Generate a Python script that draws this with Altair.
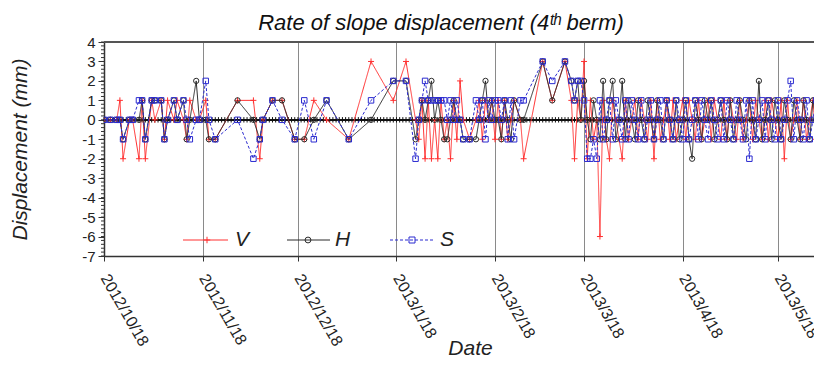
import altair as alt
import pandas as pd

START = pd.Timestamp("2012-10-18")

# observation days (offset in days from 2012/10/18)
day_offsets = [
    0, 2, 4, 5, 6, 8, 9, 11, 12, 13, 15, 16, 18, 19, 20, 22, 23, 25, 26, 27, 29, 30,
    32, 33, 35, 42, 47, 49, 50, 53, 56, 60, 63, 66, 70, 77, 84, 91, 95,
    98, 99, 100, 101, 102, 103, 104, 105, 106, 107, 108, 109, 110, 111, 112, 113, 115, 117, 118, 119, 120, 121, 122, 123,
    124, 125, 126, 127, 128, 129, 131, 132, 138, 141, 145, 147, 148, 149, 150, 151,
    152, 153, 154, 155, 156, 157, 158, 159, 160, 161, 162, 163, 164, 165, 166, 167, 168, 169, 170, 171,
    172, 173, 174, 175, 176, 177, 178, 179, 180, 181, 182, 183, 184, 185, 186, 187, 188, 189, 190, 191,
    192, 193, 194, 195, 196, 197, 198, 199, 200, 201, 202, 203, 204, 205, 206, 207, 208, 209, 210, 211,
    212, 213, 214, 215, 216, 217, 218, 219, 220, 221, 222, 223, 224, 225, 226,
]

v_values = [
    0, 0, 0, 1, -2, 0, 0, -2, 1, -2, 1, 0, 1, -1, 1, 0, 1, 0, -1, 1, 0, 0,
    1, -1, -1, 1, 1, -2, 0, 1, 1, -1, -1, 1, 0, -1, 3, 1, 3,
    0, -1, 1, -2, 1, -2, 0, -2, 1, -1, 0, -2, 1, -1, 2, 0, -1, 0, 1, -1, 1, 0, 1, -1,
    1, -1, 1, -1, 0, 1, 0, -2, 3, 1, 3, 1, -2, 1, 0, 3,
    -2, 1, -1, 0, -6, 1, -1, -2, 1, 0, -1, -2, 1, -1, 0, 1, -1, 1, 0, -1,
    1, -2, 1, -1, 0, 1, -1, 1, -1, 0, 1, -1, 1, 0, -1, 1, -1, 0, 1, -1,
    1, 0, -1, 1, -1, 1, 0, -1, 1, -1, 0, 1, -1, 1, 0, -1, 1, -1, 1, 0,
    -1, 1, -2, 1, -1, 0, 1, -1, 1, -1, 0, 1, -1, 1, -1,
]

h_values = [
    0, 0, 0, 0, -1, 0, 0, 0, 1, -1, 1, 1, 1, -1, 0, 1, 0, 1, -1, 0, 2, 0,
    0, -1, -1, 1, 0, -1, 0, 1, 1, -1, -1, 0, 1, -1, 0, 2, 2,
    -1, 0, 1, 0, 1, 2, 0, 1, 0, -1, -1, 0, 1, 0, 0, -1, -1, -1, 0, 1, 2, 0, 1, 0,
    0, -1, 1, 0, -1, 1, 0, 0, 3, 1, 3, 2, 1, 2, 0, 2,
    0, -1, 1, 0, -1, 2, -1, 1, 2, -1, 0, 2, -1, 1, 0, -1, 1, 0, -1, 1,
    0, -1, 1, 0, -1, 1, 0, -1, 1, -1, 0, 1, -1, -2, 1, 0, -1, 1, 0, 1,
    -1, 0, 1, 0, -1, 1, -1, 0, 1, 0, -1, 1, 0, -1, 2, -1, 0, 1, -1, 1,
    0, -1, 1, 0, -1, 1, 0, -1, 1, 0, -1, 1, 0, -1, 1,
]

s_values = [
    0, 0, 0, 0, -1, 0, 0, 1, 1, -1, 1, 1, 1, -1, 0, 1, 0, 1, 0, -1, 0, 0,
    2, 0, -1, 0, -2, -1, 0, 1, 0, -1, 1, -1, 1, -1, 1, 2, 2,
    -2, 0, 1, 2, 1, 1, 1, 1, 1, 1, 0, 1, 0, 1, 0, -1, -1, 1, 0, 1, -1, 1, 0, 1,
    1, 0, 1, -1, 1, -1, 1, 1, 3, 2, 3, 2, 1, 2, 2, 1,
    -2, -2, -1, -2, 1, -1, 0, 1, -1, 1, 0, -1, 1, -1, 1, 0, -1, 1, -1, 0,
    1, -1, 0, 1, -1, 1, 0, -1, 1, 0, -1, 1, -1, 0, 1, -1, 1, 0, -1, 1,
    0, -1, 1, -1, 1, 0, -1, 1, 0, -1, 1, -2, 1, -1, 0, 1, -1, 1, 0, -1,
    1, -1, 0, 1, 2, -1, 1, 0, -1, 1, -1, 0, 1, -1, 1,
]

series_names = ["V", "H", "S"]
series_colors = ["#ff3030", "#2a2a2a", "#2a2ad0"]
tick_months = [(2012, 10), (2012, 11), (2012, 12), (2013, 1), (2013, 2), (2013, 3), (2013, 4), (2013, 5)]
y_major = [-7, -6, -5, -4, -3, -2, -1, 0, 1, 2, 3, 4]

dates = [START + pd.Timedelta(days=d) for d in day_offsets]
df = pd.DataFrame({"date": dates, "V": v_values, "H": h_values, "S": s_values})

FONT = "Liberation Sans"

x_scale = alt.Scale(domain=[alt.DateTime(year=2012, month=10, date=18),
                            alt.DateTime(year=2013, month=5, date=29, hours=8)])
y_scale = alt.Scale(domain=[-7, 4], nice=False, zero=False)

x_axis = alt.Axis(
    values=[alt.DateTime(year=y, month=m, date=18) for y, m in tick_months],
    format="%Y/%-m/%d", labelAngle=60, labelAlign="left", labelBaseline="middle",
    labelFontSize=16, labelFont=FONT, labelColor="#222", labelPadding=14,
    tickSize=5, tickColor="#333", grid=True, gridColor="#8a8a8a", gridWidth=1,
    domainColor="#333", domainWidth=1.5, labelOverlap=False,
    title="Date", titleFontSize=21, titleFontStyle="italic", titleFontWeight="normal",
    titleFont=FONT, titleColor="#222", titleX=366, titleY=92,
    titleAlign="center", titleBaseline="middle",
)

y_axis = alt.Axis(
    values=y_major, labelExpr="toString(datum.value)", labelOverlap=False, labelFlush=False,
    tickSize=6, tickColor="#333", labelFontSize=15, labelFont=FONT, labelColor="#222",
    labelPadding=3, grid=False, domainColor="#333", domainWidth=1.5,
    title="Displacement (mm)", titleFontSize=21, titleFontStyle="italic", titleFontWeight="normal",
    titleFont=FONT, titleColor="#222", titleX=-84, titleY=107, titleAngle=-90,
    titleAlign="center", titleBaseline="middle",
)

x_enc = alt.X("date:T", scale=x_scale, axis=x_axis)
y_enc = alt.Y("value:Q", scale=y_scale, axis=y_axis)


def y_at(v):
    return alt.Y(datum=v, scale=y_scale, axis=y_axis)


def y2_at(v):
    return alt.Y2(datum=v)


PLUS = "M-1,0L1,0M0,-1L0,1"
shapes = [PLUS, "circle", "square"]
sizes = [36, 28, 30]
dashes = [[1, 0], [1, 0], [3, 2]]

layers = []

# minor ticks on the y axis (every 0.2 mm)
minor_df = pd.DataFrame({"value": [round(-7 + 0.2 * i, 1) for i in range(56)]})
layers.append(alt.Chart(minor_df).mark_rule(color="#333", strokeWidth=1).encode(
    y=y_enc, x=alt.value(-3), x2=alt.value(0)))

# zero reference line with daily minor ticks
ticks_df = pd.DataFrame({"date": pd.date_range(START, periods=226, freq="D")})
layers.append(alt.Chart(ticks_df).mark_rule(color="#111", strokeWidth=1).encode(
    x=x_enc, y=y_at(-0.14), y2=y2_at(0.14)))
layers.append(alt.Chart(ticks_df).mark_rule(color="#111", strokeWidth=1.2).encode(y=y_at(0)))
# top frame
layers.append(alt.Chart(ticks_df).mark_rule(color="#555", strokeWidth=2).encode(y=y_at(4)))

for name, color, shape, size, dash in zip(series_names, series_colors, shapes, sizes, dashes):
    sdf = df[["date", name]].rename(columns={name: "value"})
    base = alt.Chart(sdf).encode(x=x_enc, y=y_enc)
    layers.append(base.mark_line(color=color, strokeWidth=1, strokeDash=dash, clip=True))
    layers.append(base.mark_point(shape=shape, size=size, color=color, filled=False,
                                  strokeWidth=1, opacity=1, clip=True))

# legend (drawn manually inside the plot)
one = pd.DataFrame({"k": [1]})
leg_x = [(79, 124, 103, 131), (183, 226, 204, 231), (286, 329, 308, 336)]
LEG_Y = 198
for (x1, x2, xm, xt), name, color, shape, size, dash in zip(leg_x, series_names, series_colors, shapes, sizes, dashes):
    lc = alt.Chart(one)
    layers.append(lc.mark_rule(color=color, strokeWidth=1, strokeDash=dash).encode(
        x=alt.value(x1), x2=alt.value(x2), y=alt.value(LEG_Y)))
    layers.append(lc.mark_point(shape=shape, size=size + 6, color=color, filled=False,
                                strokeWidth=1, opacity=1).encode(x=alt.value(xm), y=alt.value(LEG_Y)))
    layers.append(lc.mark_text(text=name, font=FONT, fontSize=21, fontStyle="italic",
                               color="#222", align="left", baseline="middle").encode(
        x=alt.value(xt), y=alt.value(LEG_Y)))

chart = alt.layer(*layers).properties(
    width=710, height=214,
    autosize=alt.AutoSizeParams(type="none"),
    padding={"left": 96, "top": 34, "right": 0, "bottom": 108},
    title=alt.TitleParams(
        text="Rate of slope displacement (4ᵗʰ berm)", font=FONT, fontSize=22,
        fontStyle="italic", fontWeight="normal", color="#111", anchor="middle",
        dx=-18, offset=0,
    ),
).configure_view(stroke=None).configure_axis(labelOverlap=False).configure(background="white")

chart.save("out.html", embed_options={"renderer": "svg", "actions": False})
